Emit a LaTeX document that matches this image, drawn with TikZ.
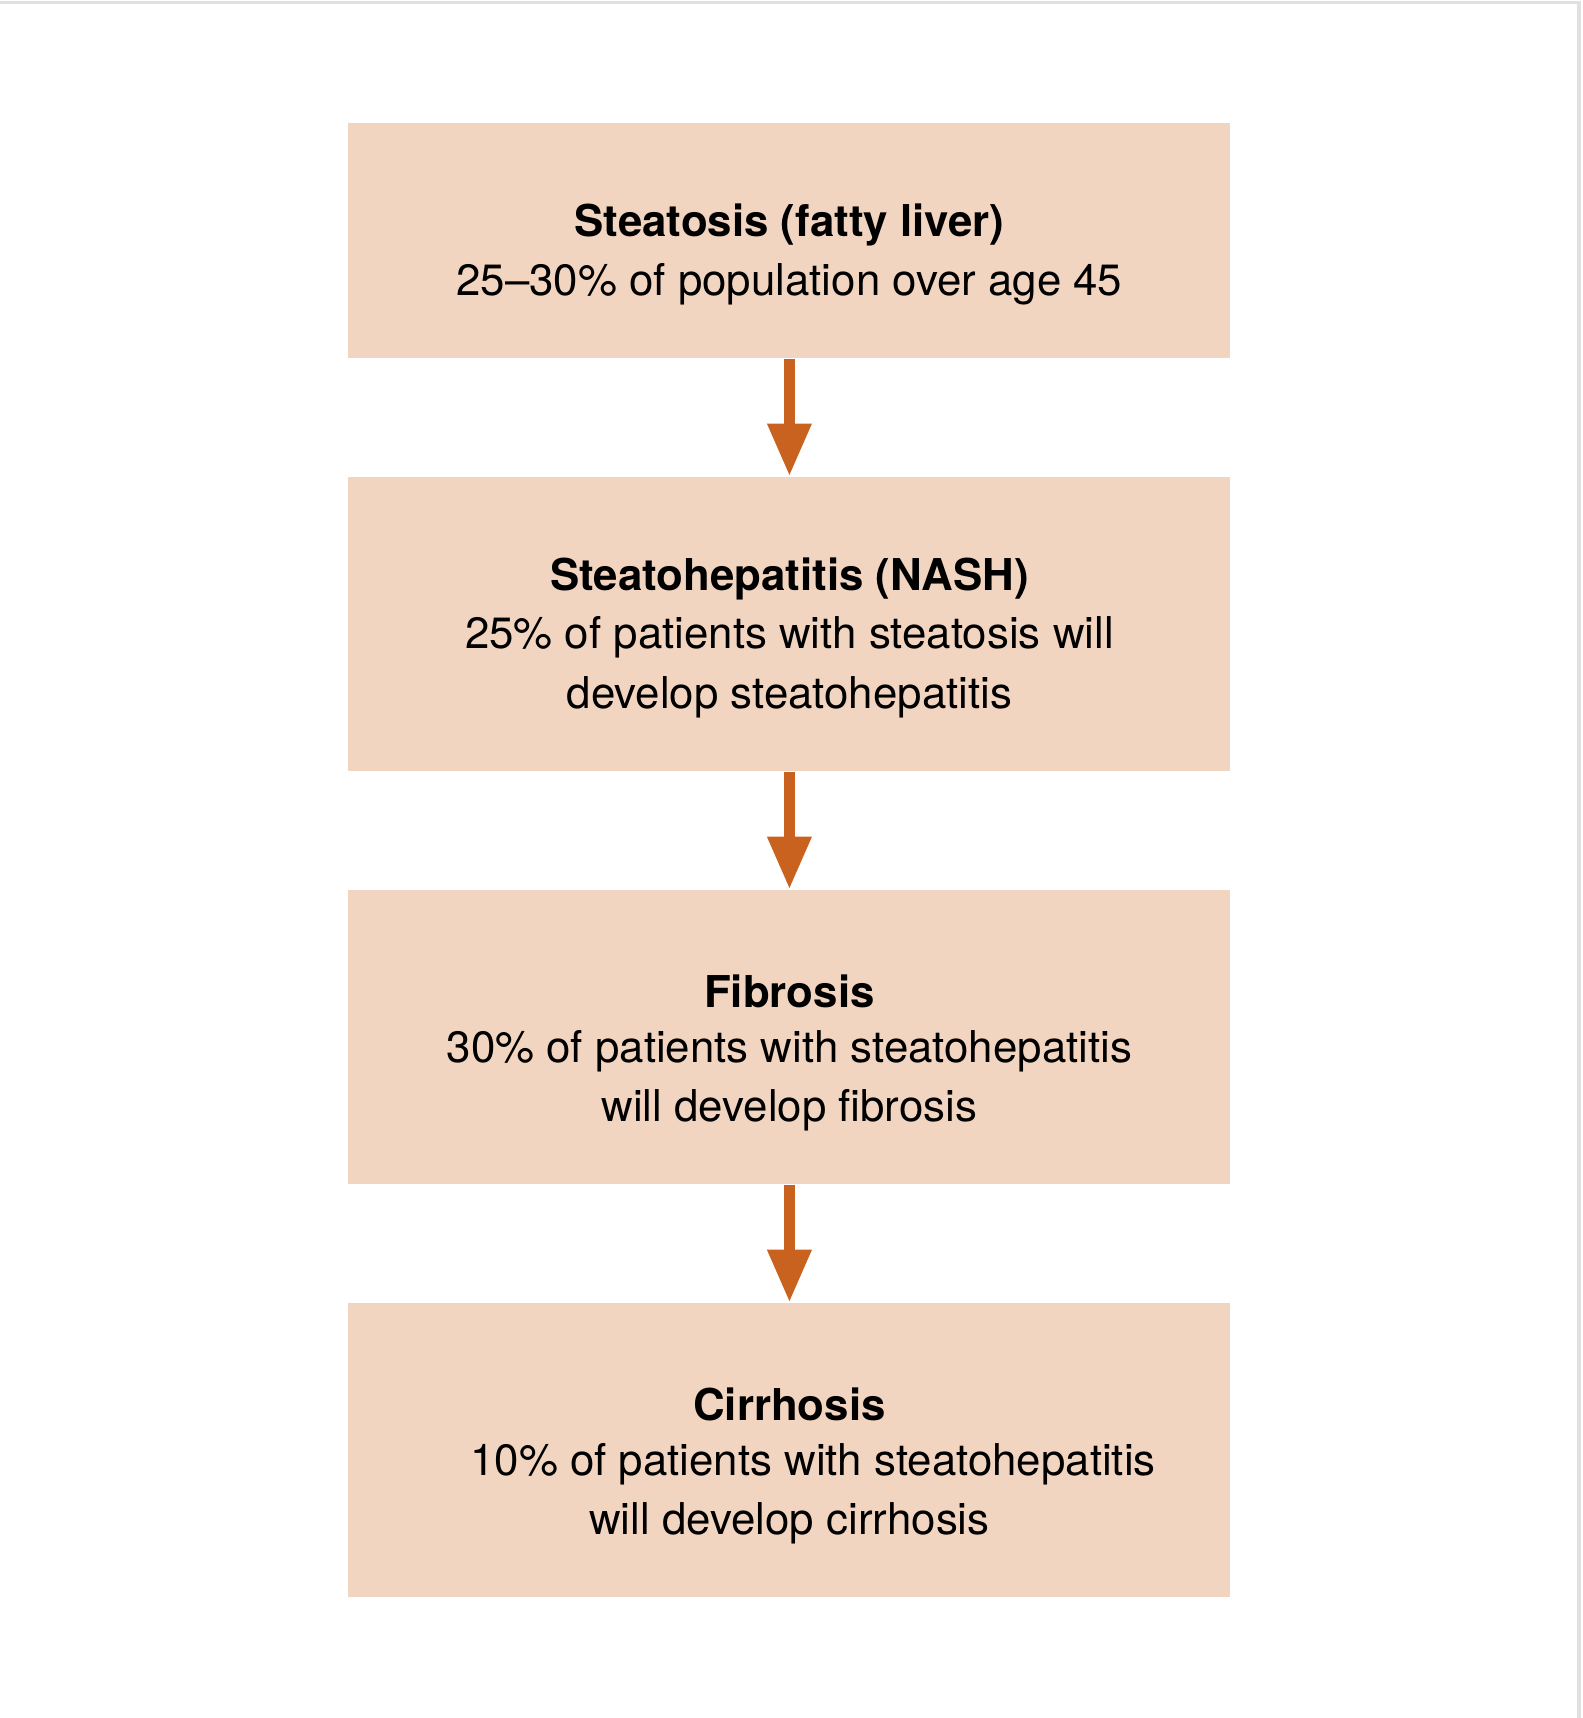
\documentclass[tikz,border=0pt]{standalone}
\usepackage{fontspec}
\setmainfont{TeX Gyre Heros}
\usetikzlibrary{arrows.meta}
\definecolor{boxfill}{HTML}{F2D5C0}
\definecolor{arr}{HTML}{C8621E}
\begin{document}
\begin{tikzpicture}[x=0.5pt,y=-0.5pt,
  stage/.style={fill=boxfill,draw=none,minimum width=402.5pt,inner sep=0pt},
  ttl/.style={font=\fontsize{20}{24}\selectfont\bfseries,inner sep=0pt},
  txt/.style={font=\fontsize{20}{24}\selectfont,inner sep=0pt},
  flow/.style={draw=arr,line width=5pt,-{Triangle[width=19pt,length=24pt]}}]
\useasboundingbox (0,0) rectangle (1444,1568);
\draw[draw=black!12,line width=1.5pt] (0,2) -- (1441,2) -- (1441,1568);
\node[stage,minimum height=107.5pt] (b1) at (720.5,219.5) {};
\node[stage,minimum height=134.5pt] (b2) at (720.5,569.5) {};
\node[stage,minimum height=134.5pt] (b3) at (720.5,946.5) {};
\node[stage,minimum height=134.5pt] (b4) at (720.5,1323.5) {};
\node[ttl] (t1) at (720.5,205) {Steatosis (fatty liver)};
\node[txt] (s1) at (720.5,259) {25–30\% of population over age 45};
\node[ttl] (t2) at (720.5,528) {Steatohepatitis (NASH)};
\node[txt] (s2a) at (720.5,582) {25\% of patients with steatosis will};
\node[txt] (s2b) at (720.5,636) {develop steatohepatitis};
\node[ttl] (t3) at (720.5,905) {Fibrosis};
\node[txt] (s3a) at (720.5,959) {30\% of patients with steatohepatitis};
\node[txt] (s3b) at (720.5,1013) {will develop fibrosis};
\node[ttl] (t4) at (720.5,1282) {Cirrhosis};
\node[txt] (s4a) at (742,1336) {10\% of patients with steatohepatitis};
\node[txt] (s4b) at (720.5,1390) {will develop cirrhosis};
\draw[flow] (b1.south) -- (b2.north);
\draw[flow] (b2.south) -- (b3.north);
\draw[flow] (b3.south) -- (b4.north);
\end{tikzpicture}
\end{document}
